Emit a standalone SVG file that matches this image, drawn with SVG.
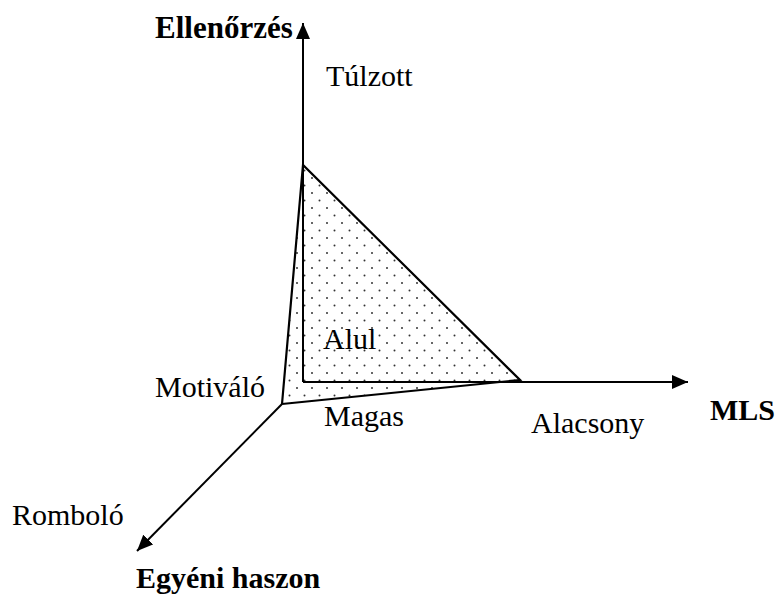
<svg xmlns="http://www.w3.org/2000/svg" width="780" height="594" viewBox="0 0 780 594">
<style>
.t{font-family:"Liberation Serif","Times New Roman",serif;font-size:30px;fill:#000}
.b{font-weight:bold}
.ax{stroke:#000;stroke-width:2;fill:none}
.edge{stroke:#000;stroke-width:2.2;fill:none;stroke-linejoin:miter}
</style>
<defs>
<pattern id="dots" x="1" y="2" width="15" height="15" patternUnits="userSpaceOnUse">
<circle cx="3.5" cy="3.5" r="1" fill="#333"/>
<circle cx="11" cy="11" r="1" fill="#333"/>
</pattern>
<marker id="ah" markerWidth="16" markerHeight="14" refX="16" refY="7" orient="auto" markerUnits="userSpaceOnUse">
<path d="M0,0 L16,7 L0,14 Z" fill="#000"/>
</marker>
</defs>
<g id="surface">
<polygon points="303,165 282,404 520,380" fill="url(#dots)"/>
</g>
<g id="connectors">
<line class="ax" x1="303" y1="382" x2="303" y2="23" marker-end="url(#ah)"/>
<line class="ax" x1="303" y1="382" x2="688" y2="382" marker-end="url(#ah)"/>
<line class="ax" x1="282" y1="404" x2="137" y2="551" marker-end="url(#ah)"/>
<polyline class="edge" points="282,404 303,165 520,380 282,404"/>
</g>
<g id="labels">
<text class="t b" x="155" y="38" style="font-size:31px">Ellenőrzés</text>
<text class="t" x="326" y="86">Túlzott</text>
<text class="t" x="323" y="349">Alul</text>
<text class="t" x="155" y="397">Motiváló</text>
<text class="t" x="324" y="426">Magas</text>
<text class="t" x="531" y="433">Alacsony</text>
<text class="t b" x="710" y="420">MLS</text>
<text class="t" x="12" y="525">Romboló</text>
<text class="t b" x="136" y="588">Egyéni haszon</text>
</g>
</svg>
